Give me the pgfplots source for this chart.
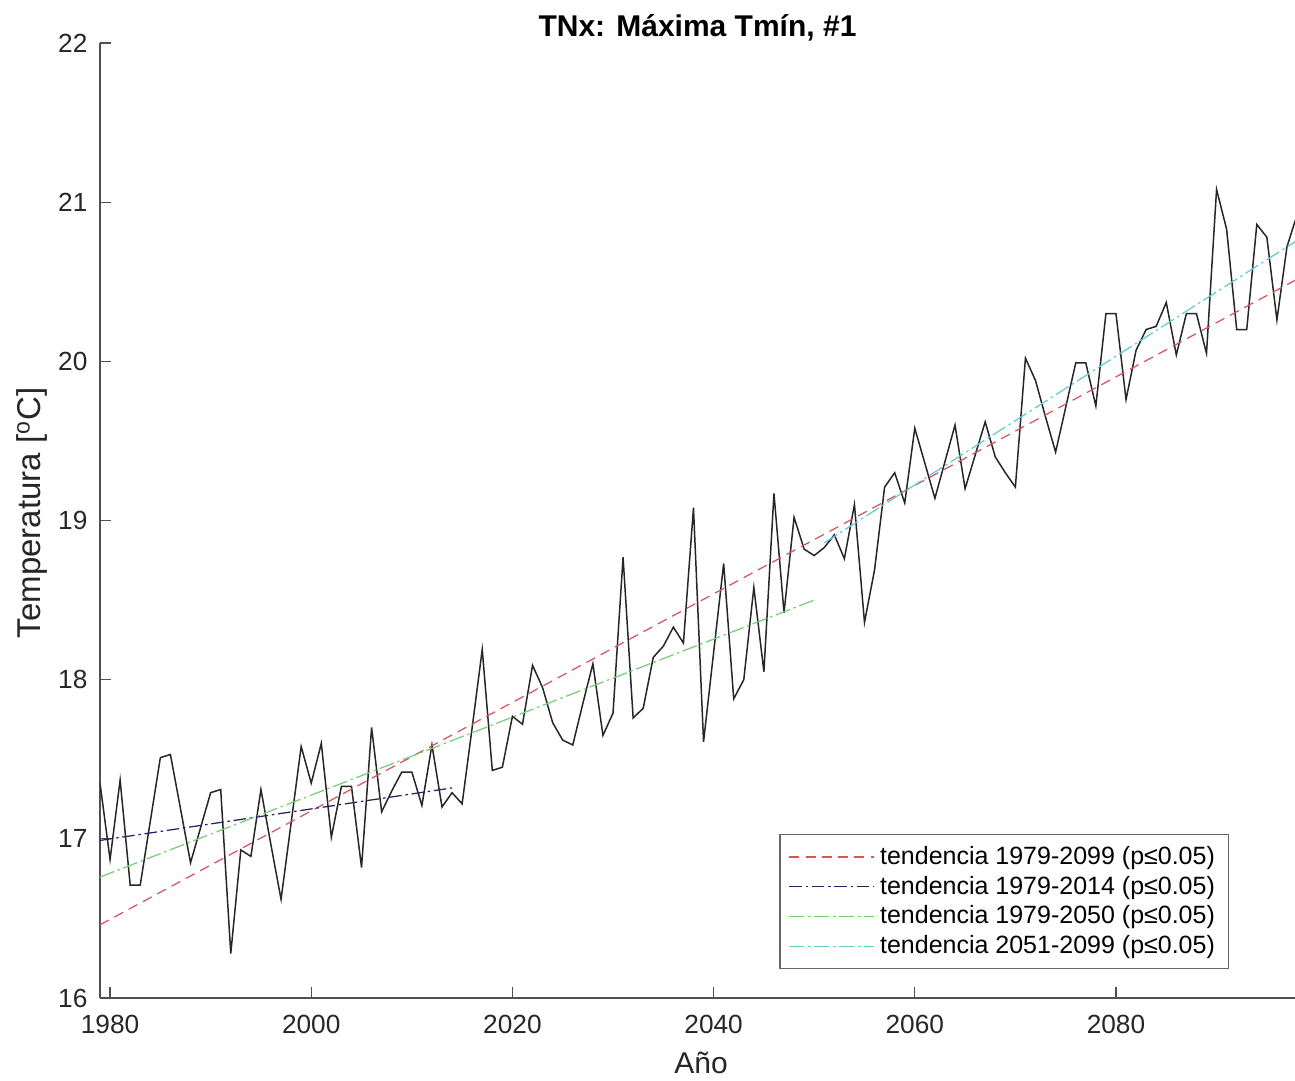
\documentclass[border=0pt]{standalone}
\usepackage{pgfplots}
\pgfplotsset{compat=1.18}
\usepackage{fontspec}
\setmainfont{Liberation Sans}

\definecolor{trendred}{RGB}{215,85,95}
\definecolor{trendnavy}{RGB}{35,35,100}
\definecolor{trendgreen}{RGB}{120,205,120}
\definecolor{trendcyan}{RGB}{95,205,210}
\definecolor{axgray}{RGB}{80,80,80}

\begin{document}
\begin{tikzpicture}
  % page box: 518pt x 432pt, axis box at (0,0)-(478pt,382pt)
  \path[use as bounding box] (-40pt,-32.8pt) rectangle (478pt,399.2pt);
  \begin{axis}[
      scale only axis,
      width=478pt, height=382pt,
      xmin=1979, xmax=2097.8, ymin=16, ymax=22,
      axis lines=left,
      axis line style={-, draw=axgray, line width=0.5pt},
      tick style={draw=axgray, line width=0.5pt},
      tick align=inside, major tick length=4.5pt,
      xtick={1980,2000,2020,2040,2060,2080},
      ytick={16,17,18,19,20,21,22},
      /pgf/number format/assume math mode=true,
      /pgf/number format/1000 sep={},
      ticklabel style={font=\fontsize{10.5}{12}\selectfont, text=black!85},
      yticklabel style={xshift=-1.5pt},
      xticklabel style={yshift=-3.5pt},
      every axis title shift=0pt,
      title={TNx: Máxima Tmín, \#1},
      title style={at={(axis description cs:0.5,1.016)}, anchor=center,
        font=\fontsize{12}{14}\selectfont\bfseries},
      xlabel={Año},
      ylabel={Temperatura [\textsuperscript{o}C]},
      x label style={at={(axis description cs:0.503,-0.068)}, anchor=center,
        font=\fontsize{12}{14}\selectfont, text=black!85},
      y label style={at={(axis description cs:-0.057,0.508)}, anchor=center,
        font=\fontsize{13.2}{15}\selectfont, text=black!85},
      legend style={at={(axis description cs:0.945,0.030)}, anchor=south east,
        draw=black!60, line width=0.5pt, font=\fontsize{10}{12}\selectfont,
        row sep=-0.8pt, inner xsep=3.5pt, inner ysep=2.5pt},
      legend cell align=left,
      legend image code/.code={\draw[#1] (0pt,0pt) -- (34pt,0pt);},
      clip=true,
    ]
    % anual serie
    \addplot[black!85, line width=0.6pt, forget plot] coordinates {
      (1979,17.35) (1980,16.87) (1981,17.37) (1982,16.71) (1983,16.71)
      (1984,17.11) (1985,17.51) (1986,17.53) (1987,17.19) (1988,16.85)
      (1989,17.07) (1990,17.29) (1991,17.31) (1992,16.28) (1993,16.93)
      (1994,16.89) (1995,17.31) (1996,16.96) (1997,16.62) (1998,17.10)
      (1999,17.58) (2000,17.35) (2001,17.60) (2002,17.01) (2003,17.33)
      (2004,17.33) (2005,16.82) (2006,17.70) (2007,17.17) (2008,17.30)
      (2009,17.42) (2010,17.42) (2011,17.21) (2012,17.59) (2013,17.20)
      (2014,17.29) (2015,17.22) (2016,17.70) (2017,18.19) (2018,17.43)
      (2019,17.45) (2020,17.77) (2021,17.72) (2022,18.09) (2023,17.95)
      (2024,17.73) (2025,17.62) (2026,17.59) (2027,17.85) (2028,18.10)
      (2029,17.65) (2030,17.79) (2031,18.77) (2032,17.76) (2033,17.82)
      (2034,18.14) (2035,18.21) (2036,18.33) (2037,18.23) (2038,19.08)
      (2039,17.61) (2040,18.17) (2041,18.73) (2042,17.88) (2043,18.00)
      (2044,18.58) (2045,18.05) (2046,19.17) (2047,18.42) (2048,19.02)
      (2049,18.82) (2050,18.78) (2051,18.83) (2052,18.91) (2053,18.76)
      (2054,19.10) (2055,18.36) (2056,18.69) (2057,19.21) (2058,19.30)
      (2059,19.11) (2060,19.58) (2061,19.36) (2062,19.14) (2063,19.37)
      (2064,19.60) (2065,19.20) (2066,19.41) (2067,19.62) (2068,19.40)
      (2069,19.30) (2070,19.21) (2071,20.02) (2072,19.88) (2073,19.65)
      (2074,19.43) (2075,19.71) (2076,19.99) (2077,19.99) (2078,19.72)
      (2079,20.30) (2080,20.30) (2081,19.76) (2082,20.07) (2083,20.20)
      (2084,20.22) (2085,20.37) (2086,20.04) (2087,20.30) (2088,20.30)
      (2089,20.05) (2090,21.08) (2091,20.83) (2092,20.20) (2093,20.20)
      (2094,20.86) (2095,20.78) (2096,20.26) (2097,20.72) (2098,20.92)
      (2099,21.05)
    };
    % trends
    \addplot[trendred, line width=0.5pt, dash pattern=on 4pt off 2.5pt]
      coordinates {(1979,16.46) (2099,20.55)};
    \addlegendentry{tendencia 1979-2099 (p≤0.05)}
    \addplot[trendnavy, line width=0.5pt, dash pattern=on 5pt off 1.5pt on 1pt off 1.5pt]
      coordinates {(1979,16.99) (2014,17.32)};
    \addlegendentry{tendencia 1979-2014 (p≤0.05)}
    \addplot[trendgreen, line width=0.5pt, dash pattern=on 6pt off 1.5pt on 1pt off 1.5pt]
      coordinates {(1979,16.76) (2050,18.50)};
    \addlegendentry{tendencia 1979-2050 (p≤0.05)}
    \addplot[trendcyan, line width=0.5pt, dash pattern=on 6pt off 1.5pt on 1pt off 1.5pt]
      coordinates {(2051,18.86) (2099,20.80)};
    \addlegendentry{tendencia 2051-2099 (p≤0.05)}
  \end{axis}
\end{tikzpicture}
\end{document}
